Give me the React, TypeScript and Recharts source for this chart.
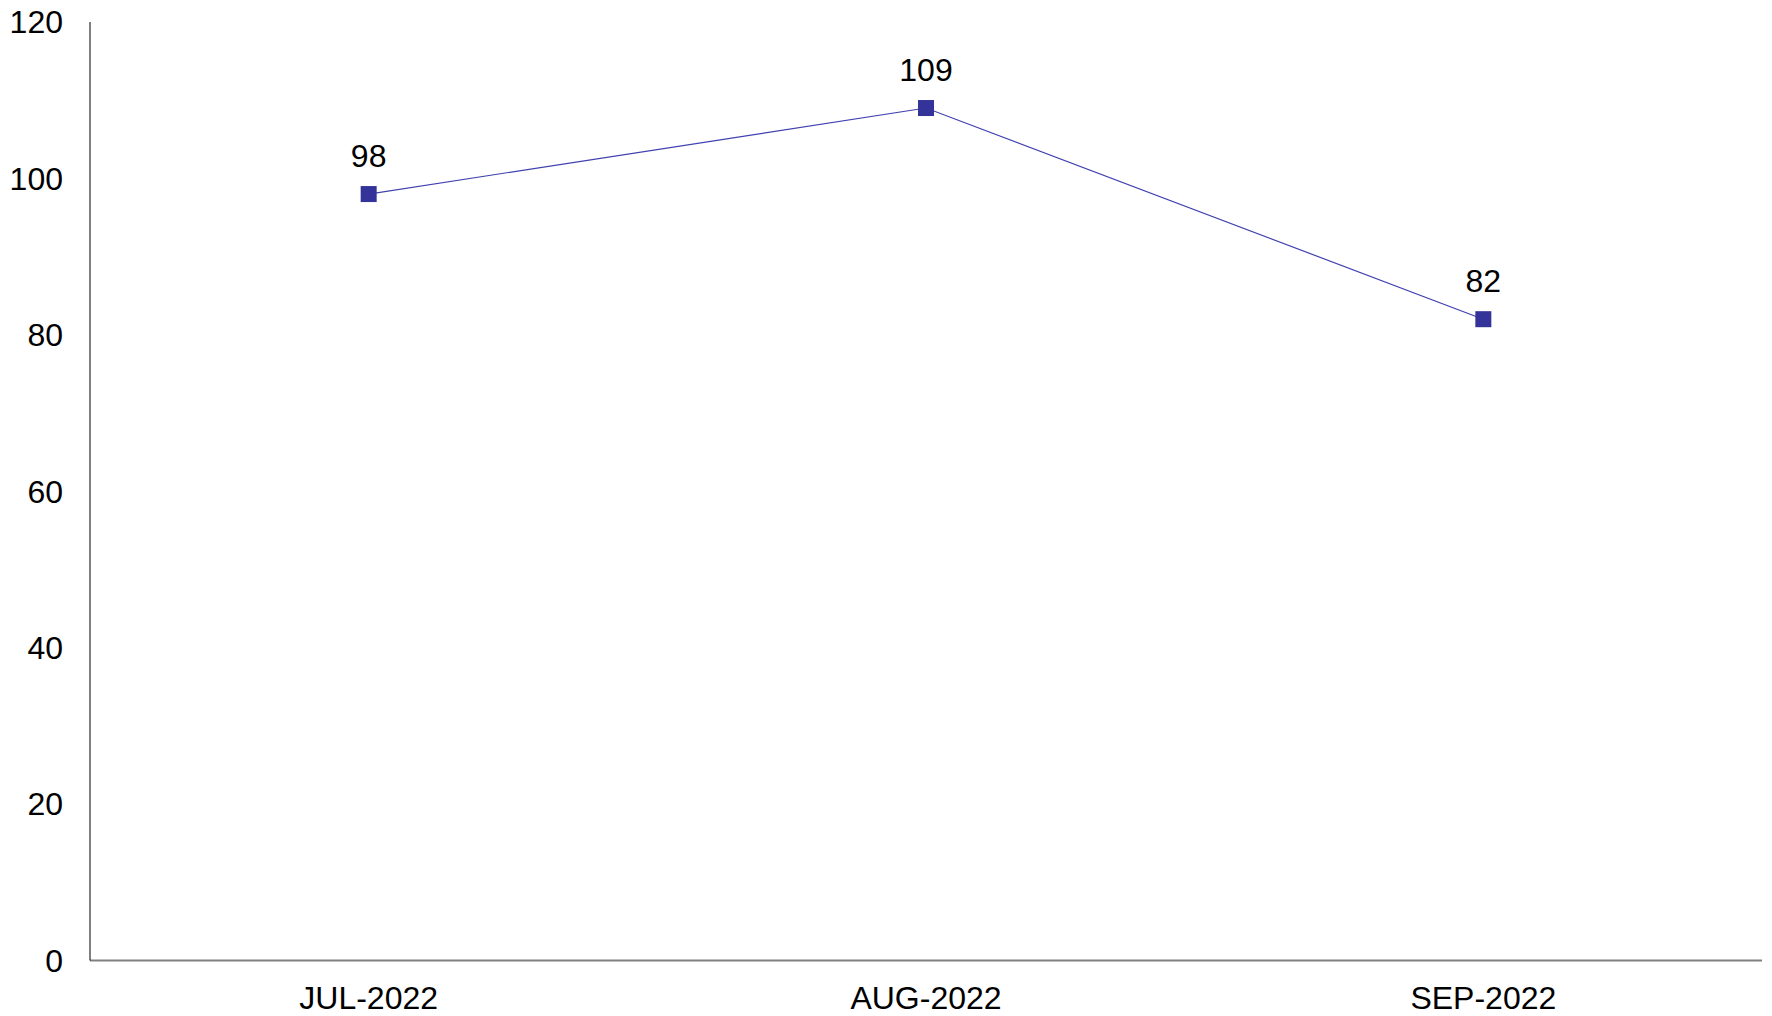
import { LineChart, Line, XAxis, YAxis, LabelList } from 'recharts';

const months = ['JUL-2022', 'AUG-2022', 'SEP-2022'];
const counts = [98, 109, 82];
const yTicks = [0, 20, 40, 60, 80, 100, 120];

const data = months.map((month, i) => ({ month, value: counts[i] }));

const font = 'Arial, "Liberation Sans", sans-serif';

// half of one category band, so points sit in the band centres
const bandPad = 1672 / 6;

const SquareDot = (props: any) => {
  const { cx, cy, index } = props;
  if (cx == null || cy == null) return null;
  return <rect key={`dot-${index}`} x={cx - 8} y={cy - 8} width={16} height={16} fill="#333399" />;
};

export default function App() {
  const tickStyle = { fill: '#000', fontSize: 32, fontFamily: font };

  return (
    <div style={{ position: 'absolute', left: 0, top: 0, background: '#fff' }}>
      <LineChart
        width={1772}
        height={1016}
        data={data}
        margin={{ top: 22, right: 10, left: 0, bottom: 0 }}
      >
        <XAxis
          dataKey="month"
          height={55.5}
          padding={{ left: bandPad, right: bandPad }}
          tick={tickStyle}
          tickLine={false}
          tickSize={0}
          tickMargin={26}
          axisLine={{ stroke: '#808080', strokeWidth: 2 }}
          interval={0}
        />
        <YAxis
          domain={[0, 120]}
          ticks={yTicks}
          width={90}
          tick={tickStyle}
          tickLine={false}
          tickSize={0}
          tickMargin={27}
          axisLine={{ stroke: '#000', strokeWidth: 1 }}
          interval={0}
        />
        <Line
          type="linear"
          dataKey="value"
          stroke="#4040b0"
          strokeWidth={1.2}
          dot={SquareDot}
          activeDot={false}
          isAnimationActive={false}
        >
          <LabelList
            dataKey="value"
            position="top"
            offset={27}
            style={{ fill: '#000', fontSize: 32, fontFamily: font }}
          />
        </Line>
      </LineChart>
    </div>
  );
}
